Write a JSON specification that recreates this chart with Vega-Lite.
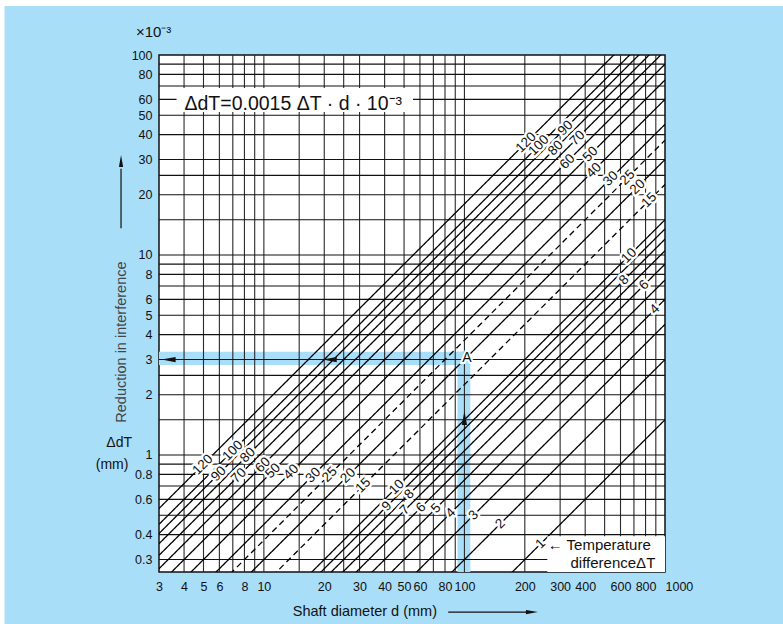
{
  "$schema": "https://vega.github.io/schema/vega-lite/v6.json",
  "width": 506,
  "height": 517,
  "autosize": {"type": "none"},
  "padding": {"left": 159, "top": 55, "right": 118, "bottom": 52},
  "background": "#a9def9",
  "config": {
    "view": {"stroke": "#111", "strokeWidth": 1.5, "fill": "white"},
    "axis": {"ticks": false, "domain": false, "grid": false, "labelFont": "Liberation Sans", "labelFontSize": 12.5, "labelColor": "#111", "labelOverlap": false, "labelBound": false, "labelFlush": false, "title": null},
    "axisX": {"labelPadding": 8},
    "axisY": {"labelPadding": 7},
    "text": {"font": "Liberation Sans"}
  },
  "datasets": {
    "margins": [{"d":0.01,"d2":100000,"y":175.8,"y2":10000},{"d":0.01,"d2":0.509,"y":0.001,"y2":10000}],
    "vgrid": [{"d":4},{"d":5},{"d":6},{"d":7},{"d":8},{"d":9},{"d":10},{"d":15},{"d":20},{"d":25},{"d":30},{"d":40},{"d":50},{"d":60},{"d":70},{"d":80},{"d":90},{"d":100},{"d":200},{"d":300},{"d":400},{"d":500},{"d":600},{"d":700},{"d":800},{"d":900}],
    "hgrid": [{"y":0.3},{"y":0.4},{"y":0.5},{"y":0.6},{"y":0.7},{"y":0.8},{"y":0.9},{"y":1},{"y":1.5},{"y":2},{"y":2.5},{"y":3},{"y":4},{"y":5},{"y":6},{"y":7},{"y":8},{"y":9},{"y":10},{"y":15},{"y":20},{"y":25},{"y":30},{"y":40},{"y":50},{"y":60},{"y":70},{"y":80},{"y":90}],
    "lines": [
      {"T":1,"d":3,"y":0.0045,"s":"solid"},{"T":1,"d":1000,"y":1.5,"s":"solid"},
      {"T":2,"d":3,"y":0.009,"s":"solid"},{"T":2,"d":1000,"y":3,"s":"solid"},
      {"T":3,"d":3,"y":0.0135,"s":"solid"},{"T":3,"d":1000,"y":4.5,"s":"solid"},
      {"T":4,"d":3,"y":0.018,"s":"solid"},{"T":4,"d":1000,"y":6,"s":"solid"},
      {"T":5,"d":3,"y":0.0225,"s":"solid"},{"T":5,"d":1000,"y":7.5,"s":"solid"},
      {"T":6,"d":3,"y":0.027,"s":"solid"},{"T":6,"d":1000,"y":9,"s":"solid"},
      {"T":7,"d":3,"y":0.0315,"s":"solid"},{"T":7,"d":1000,"y":10.5,"s":"solid"},
      {"T":8,"d":3,"y":0.036,"s":"solid"},{"T":8,"d":1000,"y":12,"s":"solid"},
      {"T":9,"d":3,"y":0.0405,"s":"solid"},{"T":9,"d":1000,"y":13.5,"s":"solid"},
      {"T":10,"d":3,"y":0.045,"s":"solid"},{"T":10,"d":1000,"y":15,"s":"solid"},
      {"T":15,"d":3,"y":0.0675,"s":"dashed"},{"T":15,"d":1000,"y":22.5,"s":"dashed"},
      {"T":20,"d":3,"y":0.09,"s":"solid"},{"T":20,"d":1000,"y":30,"s":"solid"},
      {"T":25,"d":3,"y":0.1125,"s":"dashed"},{"T":25,"d":1000,"y":37.5,"s":"dashed"},
      {"T":30,"d":3,"y":0.135,"s":"solid"},{"T":30,"d":1000,"y":45,"s":"solid"},
      {"T":40,"d":3,"y":0.18,"s":"solid"},{"T":40,"d":1000,"y":60,"s":"solid"},
      {"T":50,"d":3,"y":0.225,"s":"solid"},{"T":50,"d":1000,"y":75,"s":"solid"},
      {"T":60,"d":3,"y":0.27,"s":"solid"},{"T":60,"d":1000,"y":90,"s":"solid"},
      {"T":70,"d":3,"y":0.315,"s":"solid"},{"T":70,"d":1000,"y":105,"s":"solid"},
      {"T":80,"d":3,"y":0.36,"s":"solid"},{"T":80,"d":1000,"y":120,"s":"solid"},
      {"T":90,"d":3,"y":0.405,"s":"solid"},{"T":90,"d":1000,"y":135,"s":"solid"},
      {"T":100,"d":3,"y":0.45,"s":"solid"},{"T":100,"d":1000,"y":150,"s":"solid"},
      {"T":120,"d":3,"y":0.54,"s":"solid"},{"T":120,"d":1000,"y":180,"s":"solid"}
    ],
    "labels": [
      {"lab":"120","d":203,"y":36.5},{"lab":"100","d":235,"y":35.3},{"lab":"90","d":319,"y":43.1},{"lab":"80","d":285,"y":34.2},
      {"lab":"70","d":366,"y":38.4},{"lab":"60","d":326,"y":29.3},{"lab":"50","d":425,"y":31.9},{"lab":"40","d":442,"y":26.5},
      {"lab":"30","d":536,"y":24.1},{"lab":"25","d":650,"y":24.4},{"lab":"20","d":730,"y":21.9},{"lab":"15","d":834,"y":18.8},
      {"lab":"10","d":662,"y":9.93},{"lab":"8","d":625,"y":7.5},{"lab":"6","d":787,"y":7.08},{"lab":"4","d":891,"y":5.35},
      {"lab":"120","d":4.96,"y":0.893},{"lab":"100","d":7.0,"y":1.05},{"lab":"90","d":5.96,"y":0.805},{"lab":"80","d":8.32,"y":0.998},
      {"lab":"70","d":7.5,"y":0.788},{"lab":"60","d":9.9,"y":0.891},{"lab":"50","d":11.1,"y":0.833},{"lab":"40","d":13.7,"y":0.822},
      {"lab":"30","d":17.6,"y":0.792},{"lab":"25","d":21.3,"y":0.799},{"lab":"20","d":26.3,"y":0.789},{"lab":"15","d":31.3,"y":0.704},
      {"lab":"10","d":46.0,"y":0.69},{"lab":"9","d":41.0,"y":0.554},{"lab":"8","d":53.1,"y":0.637},{"lab":"7","d":50.5,"y":0.53},
      {"lab":"6","d":60.7,"y":0.546},{"lab":"5","d":72.2,"y":0.542},{"lab":"4","d":85.5,"y":0.513},{"lab":"3","d":111,"y":0.4995},
      {"lab":"2","d":151,"y":0.453},{"lab":"1","d":240,"y":0.36}
    ],
    "bands": [{"d":3,"d2":107,"y":2.82,"y2":3.28},{"d":92.3,"d2":107,"y":0.26,"y2":3.28}],
    "boxes": [{"d":3.67,"d2":55.4,"y":51.9,"y2":68.4},{"d":259,"d2":1000,"y":0.26,"y2":0.392}],
    "heads": [{"d":3.35,"y":3,"dir":"left"},{"d":21.3,"y":3,"dir":"left"},{"d":100,"y":1.53,"dir":"up"},{"d":217,"y":0.164,"dir":"right"},{"d":1.94,"y":29.5,"dir":"upsmall"}],
    "hrules": [{"d":83,"d2":206,"y":0.164}],
    "vrules": [{"d":1.94,"y":13.6,"y2":27}],
    "cnotes": [
      {"txt":"×10⁻³","d":2.82,"y":130.8,"sz":15},
      {"txt":"ΔdT","d":1.9,"y":1.15,"sz":14},
      {"txt":"(mm)","d":1.75,"y":0.891,"sz":14},
      {"txt":"Shaft diameter d (mm)","d":31.9,"y":0.164,"sz":14.5}
    ],
    "lnotes": [
      {"txt":"ΔdT=0.0015 ΔT · d · 10⁻³","d":4.02,"y":56.9,"sz":19.5},
      {"txt":"← Temperature","d":260,"y":0.355,"sz":15},
      {"txt":"differenceΔT","d":338,"y":0.289,"sz":15}
    ],
    "vnotes": [{"txt":"Reduction in interference","d":1.97,"y":3.67}],
    "pointA": [{"txt":"A","d":103,"y":3.05}]
  },
  "layer": [
    {
      "data": {"name": "bands"},
      "mark": {"type": "rect", "color": "#a9def9"},
      "encoding": {
        "x": {"field": "d", "type": "quantitative", "scale": {"type": "log", "domain": [3, 1000], "nice": false},
              "axis": {"values": [3,4,5,6,8,10,20,30,40,50,60,80,100,200,300,400,600,800,1000], "format": "~g",
                       "labelAlign": {"condition": {"test": "datum.value == 1000", "value": "left"}, "value": "center"}}},
        "x2": {"field": "d2"},
        "y": {"field": "y", "type": "quantitative", "scale": {"type": "log", "domain": [0.26, 100], "nice": false}, "axis": {"values": [0.3,0.4,0.6,0.8,1,2,3,4,5,6,8,10,20,30,40,50,60,80,100], "format": "~g"}},
        "y2": {"field": "y2"}
      }
    },
    {
      "data": {"name": "margins"},
      "mark": {"type": "rect", "color": "white", "clip": false},
      "encoding": {
        "x": {"field": "d", "type": "quantitative"}, "x2": {"field": "d2"},
        "y": {"field": "y", "type": "quantitative"}, "y2": {"field": "y2"}
      }
    },
    {
      "data": {"name": "vgrid"},
      "mark": {"type": "rule", "color": "#2a2a2a", "strokeWidth": 1.1},
      "encoding": {"x": {"field": "d", "type": "quantitative"}}
    },
    {
      "data": {"name": "hgrid"},
      "mark": {"type": "rule", "color": "#111", "strokeWidth": 1.1},
      "encoding": {"y": {"field": "y", "type": "quantitative"}}
    },
    {
      "data": {"name": "lines"},
      "mark": {"type": "line", "clip": true, "color": "#000", "strokeWidth": 1.3},
      "encoding": {
        "x": {"field": "d", "type": "quantitative"},
        "y": {"field": "y", "type": "quantitative"},
        "detail": {"field": "T", "type": "nominal"},
        "strokeDash": {"field": "s", "type": "nominal", "scale": {"domain": ["solid", "dashed"], "range": [[1, 0], [6, 4]]}, "legend": null}
      }
    },
    {
      "data": {"name": "boxes"},
      "mark": {"type": "rect", "color": "white"},
      "encoding": {
        "x": {"field": "d", "type": "quantitative"}, "x2": {"field": "d2"},
        "y": {"field": "y", "type": "quantitative"}, "y2": {"field": "y2"}
      }
    },
    {
      "data": {"name": "labels"},
      "mark": {"type": "text", "angle": -45, "fontSize": 13.5, "color": "white", "stroke": "white", "strokeWidth": 5, "strokeJoin": "round"},
      "encoding": {"x": {"field": "d", "type": "quantitative"}, "y": {"field": "y", "type": "quantitative"}, "text": {"field": "lab"}}
    },
    {
      "data": {"name": "labels"},
      "mark": {"type": "text", "angle": -45, "fontSize": 13.5, "color": "#111"},
      "encoding": {"x": {"field": "d", "type": "quantitative"}, "y": {"field": "y", "type": "quantitative"}, "text": {"field": "lab"}}
    },
    {
      "data": {"name": "pointA"},
      "mark": {"type": "text", "fontSize": 14, "color": "white", "stroke": "white", "strokeWidth": 4},
      "encoding": {"x": {"field": "d", "type": "quantitative"}, "y": {"field": "y", "type": "quantitative"}, "text": {"field": "txt"}}
    },
    {
      "data": {"name": "pointA"},
      "mark": {"type": "text", "fontSize": 14, "color": "#111"},
      "encoding": {"x": {"field": "d", "type": "quantitative"}, "y": {"field": "y", "type": "quantitative"}, "text": {"field": "txt"}}
    },
    {
      "data": {"name": "hrules"},
      "mark": {"type": "rule", "color": "#111", "strokeWidth": 1.2, "clip": false},
      "encoding": {"x": {"field": "d", "type": "quantitative"}, "x2": {"field": "d2"}, "y": {"field": "y", "type": "quantitative"}}
    },
    {
      "data": {"name": "vrules"},
      "mark": {"type": "rule", "color": "#111", "strokeWidth": 1.2, "clip": false},
      "encoding": {"x": {"field": "d", "type": "quantitative"}, "y": {"field": "y", "type": "quantitative"}, "y2": {"field": "y2"}}
    },
    {
      "data": {"name": "heads"},
      "transform": [{"filter": "datum.dir == 'left'"}],
      "mark": {"type": "point", "shape": "M -1 0 L 1 -0.38 L 1 0.38 Z", "size": 196, "filled": true, "color": "#111", "opacity": 1},
      "encoding": {"x": {"field": "d", "type": "quantitative"}, "y": {"field": "y", "type": "quantitative"}}
    },
    {
      "data": {"name": "heads"},
      "transform": [{"filter": "datum.dir == 'up'"}],
      "mark": {"type": "point", "shape": "M 0 -1 L 0.38 1 L -0.38 1 Z", "size": 196, "filled": true, "color": "#111", "opacity": 1},
      "encoding": {"x": {"field": "d", "type": "quantitative"}, "y": {"field": "y", "type": "quantitative"}}
    },
    {
      "data": {"name": "heads"},
      "transform": [{"filter": "datum.dir == 'right'"}],
      "mark": {"type": "point", "shape": "M 1 0 L -1 -0.35 L -1 0.35 Z", "size": 144, "filled": true, "color": "#111", "opacity": 1},
      "encoding": {"x": {"field": "d", "type": "quantitative"}, "y": {"field": "y", "type": "quantitative"}}
    },
    {
      "data": {"name": "heads"},
      "transform": [{"filter": "datum.dir == 'upsmall'"}],
      "mark": {"type": "point", "shape": "M 0 -1 L 0.35 1 L -0.35 1 Z", "size": 144, "filled": true, "color": "#111", "opacity": 1},
      "encoding": {"x": {"field": "d", "type": "quantitative"}, "y": {"field": "y", "type": "quantitative"}}
    },
    {
      "data": {"name": "cnotes"},
      "mark": {"type": "text", "baseline": "middle", "align": "center", "color": "#111"},
      "encoding": {
        "x": {"field": "d", "type": "quantitative"}, "y": {"field": "y", "type": "quantitative"},
        "text": {"field": "txt"},
        "size": {"field": "sz", "type": "quantitative", "scale": null}
      }
    },
    {
      "data": {"name": "lnotes"},
      "mark": {"type": "text", "baseline": "middle", "align": "left", "color": "#111"},
      "encoding": {
        "x": {"field": "d", "type": "quantitative"}, "y": {"field": "y", "type": "quantitative"},
        "text": {"field": "txt"},
        "size": {"field": "sz", "type": "quantitative", "scale": null}
      }
    },
    {
      "data": {"name": "vnotes"},
      "mark": {"type": "text", "angle": -90, "fontSize": 14.5, "color": "#444", "baseline": "middle"},
      "encoding": {"x": {"field": "d", "type": "quantitative"}, "y": {"field": "y", "type": "quantitative"}, "text": {"field": "txt"}}
    }
  ]
}
